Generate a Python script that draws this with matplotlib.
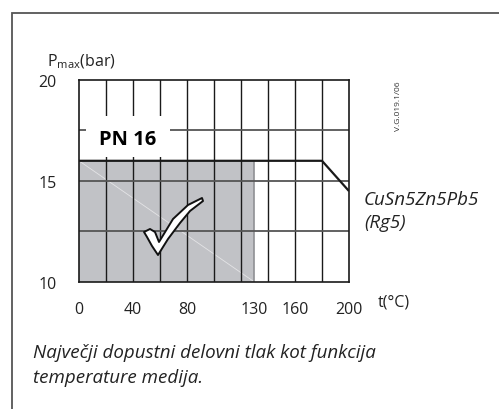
import numpy as np
import matplotlib
matplotlib.use("Agg")
import matplotlib.pyplot as plt
from matplotlib.patches import Rectangle, Polygon

plt.rcParams['font.family'] = ['Open Sans', 'DejaVu Sans']
plt.rcParams['mathtext.fontset'] = 'custom'
plt.rcParams['mathtext.rm'] = 'Open Sans'

# data
temp = [0, 180, 200]          # t (°C)
pmax = [16, 16, 14.5]         # P max (bar)
pn_limit = 16
shade_t = [0, 130]            # shaded (allowed) range
x_ticks = [0, 40, 80, 130, 160, 200]
y_ticks = [10, 15, 20]
x_grid = np.arange(20, 200, 20)
y_grid = [12.5, 15, 17.5]

fig = plt.figure(figsize=(4.99, 4.10), dpi=100)
ax = fig.add_axes([79/499, 1-283/410, 270/499, 202/410])

ax.set_xlim(0, 200)
ax.set_ylim(10, 20)

# shaded area
ax.fill_between(shade_t, 10, pn_limit, color='#c1c2c6', zorder=1, lw=0)
ax.plot([shade_t[1], shade_t[1]], [10, pn_limit], color='#8f9094', lw=1.2, zorder=1.5)
ax.plot(shade_t, [pn_limit, 10], color='#e4e4e6', lw=0.6, zorder=1.4)

# grid
for x in x_grid:
    ax.axvline(x, color='#1a1a1a', lw=1.0, zorder=2)
for y in y_grid:
    ax.axhline(y, color='#555555', lw=1.3, zorder=2)

# label box for PN 16
ax.add_patch(Rectangle((0.026, 0.62), 0.31, 0.20, transform=ax.transAxes,
                       facecolor='white', edgecolor='none', zorder=3))
ax.text(36, 17.1, 'PN 16', fontsize=14.5, fontweight='bold', ha='center', va='center', zorder=4)

# curve
ax.plot(temp, pmax, color='#1a1a1a', lw=1.6, zorder=5, solid_capstyle='butt')

# check mark (decoration, axes fraction)
chk = np.array([(144, 233), (150, 230), (155, 233), (159, 243), (173, 220),
                (188, 206), (202, 199), (203, 202), (190, 212), (180, 224),
                (168, 240), (158, 256), (152, 247), (147, 238)], float)
chk[:, 0] = (chk[:, 0] - 79) / 270
chk[:, 1] = (283 - chk[:, 1]) / 202
ax.add_patch(Polygon(chk, closed=True, transform=ax.transAxes, facecolor='white',
                     edgecolor='#111111', lw=1.4, joinstyle='round', zorder=6))

ax.set_xticks(x_ticks)
ax.set_yticks(y_ticks)
ax.tick_params(length=0, labelsize=11.5, colors='#222222')
ax.tick_params(axis='x', pad=14)
ax.tick_params(axis='y', pad=16)
for s in ax.spines.values():
    s.set_color('#1a1a1a')
    s.set_linewidth(1.2)
    s.set_zorder(7)

fig.text(47/499, 1-62/410, r'P$_{\mathregular{max}}$(bar)', fontsize=11.5, va='center', color='#222222')
fig.text(378/499, 1-303/410, 't(°C)', fontsize=11.5, va='center', color='#222222')
fig.text(398/499, 1-106/410, 'V.G.019.1/06', fontsize=6, rotation=90, ha='center', va='center', color='#333333')
fig.text(364/499, 1-200/410, 'CuSn5Zn5Pb5', fontsize=13.5, style='italic', va='center', color='#222222')
fig.text(364/499, 1-223/410, '(Rg5)', fontsize=13.5, style='italic', va='center', color='#222222')
fig.text(33/499, 1-353/410, 'Največji dopustni delovni tlak kot funkcija', fontsize=13.5, style='italic', va='center', color='#222222')
fig.text(33/499, 1-378/410, 'temperature medija.', fontsize=13.5, style='italic', va='center', color='#222222')

# outer frame
fig.add_artist(Rectangle((12/499, -0.1), 1.2, 1-14/410+0.1, transform=fig.transFigure,
                         facecolor='none', edgecolor='#555555', lw=1.3))

fig.savefig('out.png', dpi=100)
